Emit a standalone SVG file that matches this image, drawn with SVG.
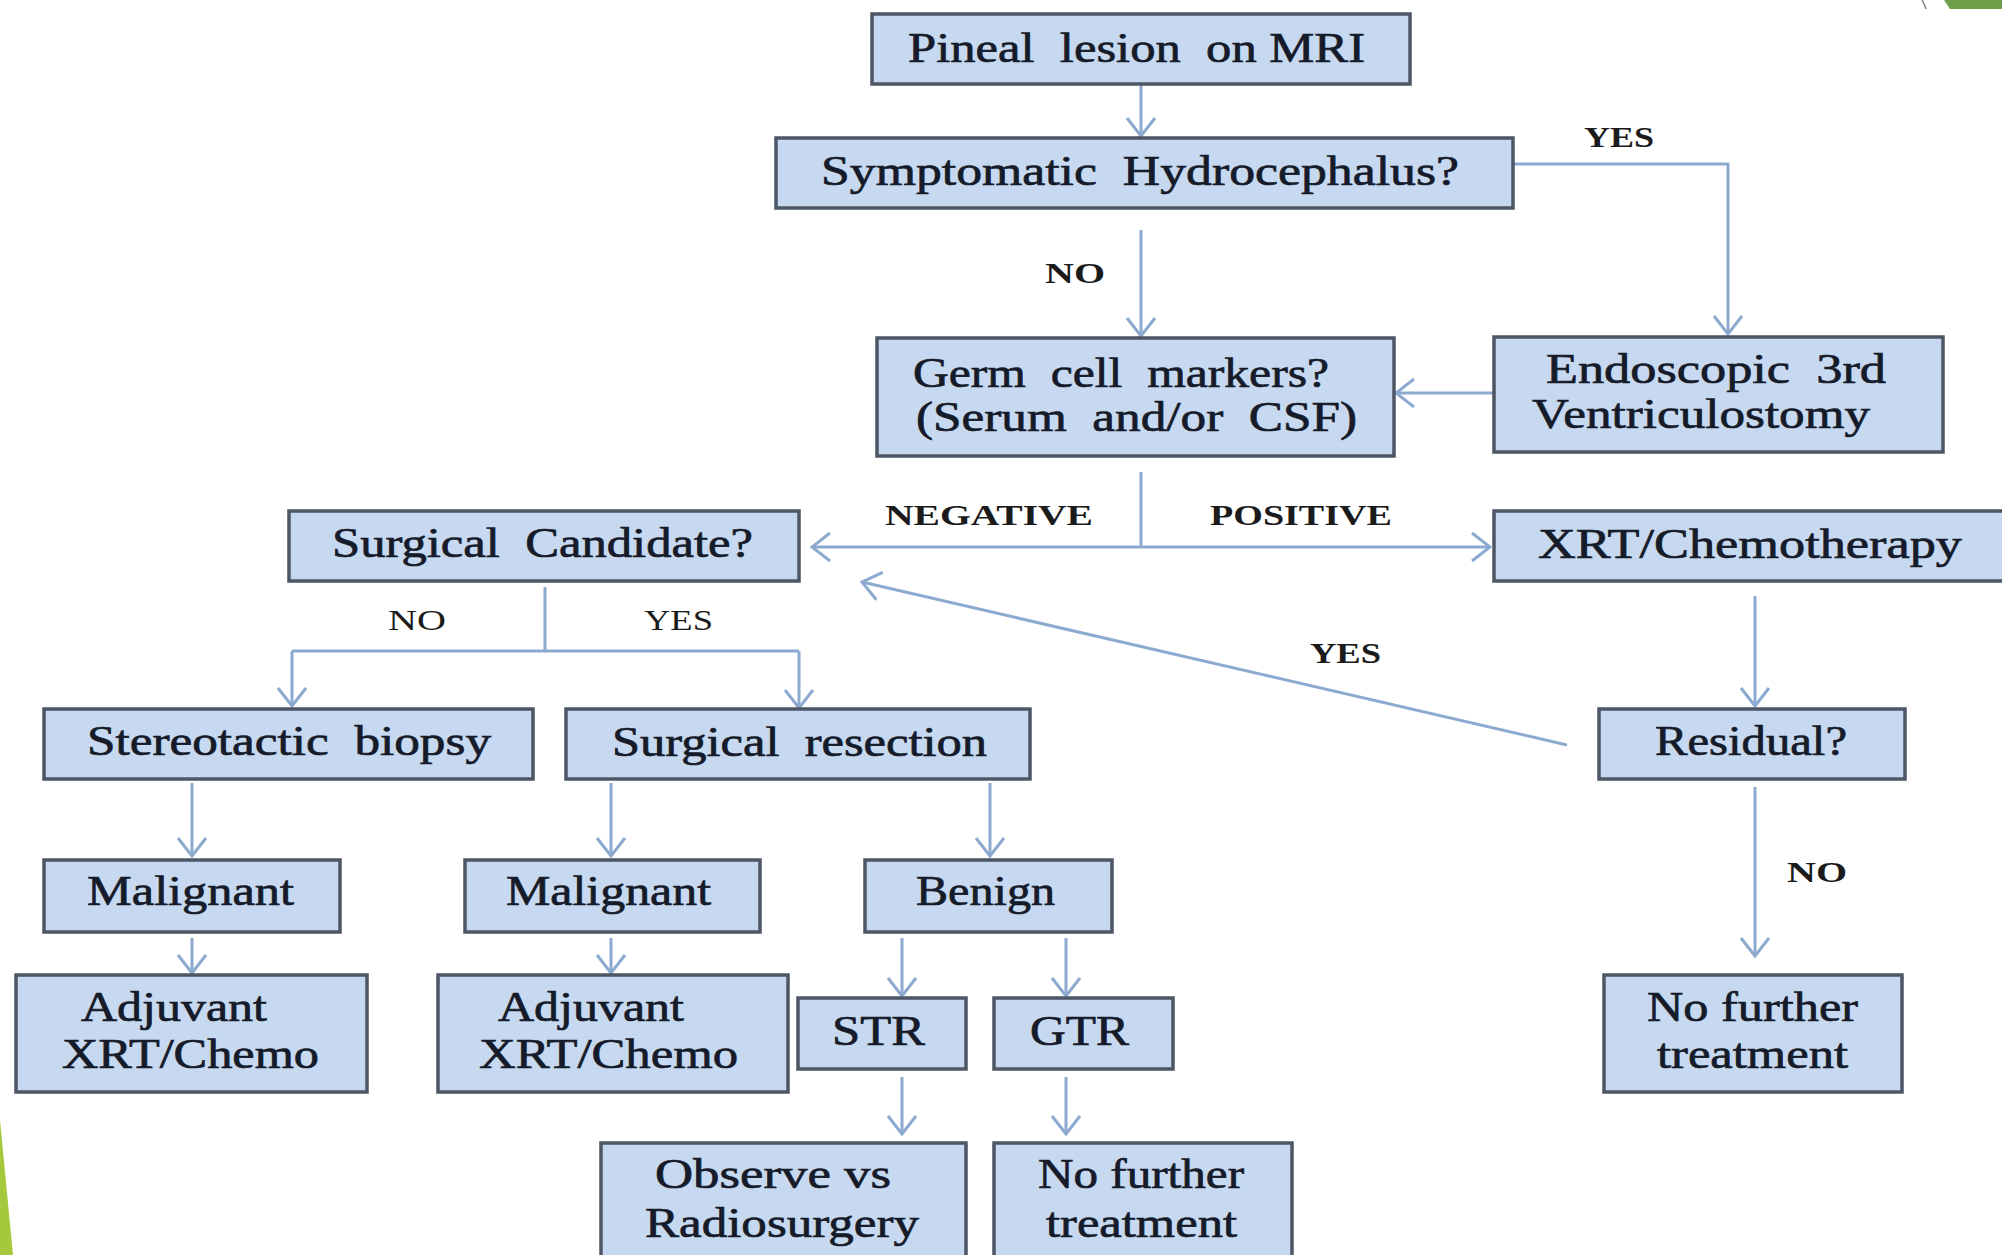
<svg xmlns="http://www.w3.org/2000/svg" width="2002" height="1255" viewBox="0 0 2002 1255">
<style>
.box{fill:#c6d9f0;stroke:#4c5665;stroke-width:3.5}
.t{font-family:"Liberation Serif","Times New Roman",serif;font-size:42px;fill:#161b2a;stroke:#161b2a;stroke-width:0.7;white-space:pre}
.l{font-family:"Liberation Serif","Times New Roman",serif;font-size:30px;fill:#1b1b1b}
.b{font-weight:bold}
.c{fill:none;stroke:#8caad0;stroke-width:3}
</style>
<defs>
<marker id="ah" viewBox="0 0 22 32" refX="20" refY="16" markerWidth="22" markerHeight="32" markerUnits="userSpaceOnUse" orient="auto">
<path d="M2,2 L20,16 L2,30" fill="none" stroke="#8caad0" stroke-width="3"/>
</marker>
</defs>
<rect width="2002" height="1255" fill="#ffffff"/>
<g id="decor">
<path d="M1944,0 L2002,0 L2002,9 L1950,9 Z" fill="#6e9e4a"/>
<path d="M1922,0 Q1925,5 1926,9" fill="none" stroke="#888" stroke-width="1.5"/>
<path d="M0,1120 L13,1255 L0,1255 Z" fill="#a5c93d"/>
</g>
<g id="connectors">
<path class="c" d="M1141,84 L1141,136" marker-end="url(#ah)"/>
<path class="c" d="M1141,230 L1141,336" marker-end="url(#ah)"/>
<path class="c" d="M1513,164 L1728,164 L1728,334" marker-end="url(#ah)"/>
<path class="c" d="M1494,393 L1396,393" marker-end="url(#ah)"/>
<path class="c" d="M1141,472 L1141,547"/>
<path class="c" d="M1141,547 L812,547" marker-end="url(#ah)"/>
<path class="c" d="M1141,547 L1490,547" marker-end="url(#ah)"/>
<path class="c" d="M1755,596 L1755,706" marker-end="url(#ah)"/>
<path class="c" d="M1755,787 L1755,956" marker-end="url(#ah)"/>
<path class="c" d="M1567,745 L862,582" marker-end="url(#ah)"/>
<path class="c" d="M545,587 L545,651"/>
<path class="c" d="M292,651 L799,651"/>
<path class="c" d="M292,651 L292,706" marker-end="url(#ah)"/>
<path class="c" d="M799,651 L799,708" marker-end="url(#ah)"/>
<path class="c" d="M192,783 L192,856" marker-end="url(#ah)"/>
<path class="c" d="M611,783 L611,856" marker-end="url(#ah)"/>
<path class="c" d="M990,783 L990,856" marker-end="url(#ah)"/>
<path class="c" d="M192,938 L192,973" marker-end="url(#ah)"/>
<path class="c" d="M611,938 L611,973" marker-end="url(#ah)"/>
<path class="c" d="M902,938 L902,996" marker-end="url(#ah)"/>
<path class="c" d="M1066,938 L1066,996" marker-end="url(#ah)"/>
<path class="c" d="M902,1077 L902,1134" marker-end="url(#ah)"/>
<path class="c" d="M1066,1077 L1066,1134" marker-end="url(#ah)"/>
</g>
<g id="labels">
<text class="l b" x="1045" y="283" textLength="60" lengthAdjust="spacingAndGlyphs">NO</text>
<text class="l b" x="1584" y="147" textLength="70" lengthAdjust="spacingAndGlyphs">YES</text>
<text class="l b" x="885" y="525" textLength="208" lengthAdjust="spacingAndGlyphs">NEGATIVE</text>
<text class="l b" x="1210" y="525" textLength="182" lengthAdjust="spacingAndGlyphs">POSITIVE</text>
<text class="l" x="388" y="630" textLength="58" lengthAdjust="spacingAndGlyphs">NO</text>
<text class="l" x="644" y="630" textLength="69" lengthAdjust="spacingAndGlyphs">YES</text>
<text class="l b" x="1310" y="663" textLength="71" lengthAdjust="spacingAndGlyphs">YES</text>
<text class="l b" x="1787" y="882" textLength="60" lengthAdjust="spacingAndGlyphs">NO</text>
</g>
<g id="n-pineal">
<rect class="box" x="872" y="14" width="538" height="70"/>
<text class="t" xml:space="preserve" x="908" y="62" textLength="457" lengthAdjust="spacingAndGlyphs">Pineal  lesion  on MRI</text>
</g>
<g id="n-hydro">
<rect class="box" x="776" y="138" width="737" height="70"/>
<text class="t" xml:space="preserve" x="821" y="185" textLength="638" lengthAdjust="spacingAndGlyphs">Symptomatic  Hydrocephalus?</text>
</g>
<g id="n-germ">
<rect class="box" x="877" y="338" width="517" height="118"/>
<text class="t" xml:space="preserve" x="913" y="387" textLength="416" lengthAdjust="spacingAndGlyphs">Germ  cell  markers?</text>
<text class="t" xml:space="preserve" x="916" y="431" textLength="441" lengthAdjust="spacingAndGlyphs">(Serum  and/or  CSF)</text>
</g>
<g id="n-etv">
<rect class="box" x="1494" y="337" width="449" height="115"/>
<text class="t" xml:space="preserve" x="1546" y="383" textLength="340" lengthAdjust="spacingAndGlyphs">Endoscopic  3rd</text>
<text class="t" x="1532" y="428" textLength="338" lengthAdjust="spacingAndGlyphs">Ventriculostomy</text>
</g>
<g id="n-xrt">
<rect class="box" x="1494" y="511" width="530" height="70"/>
<text class="t" x="1538" y="558" textLength="424" lengthAdjust="spacingAndGlyphs">XRT/Chemotherapy</text>
</g>
<g id="n-candidate">
<rect class="box" x="289" y="511" width="510" height="70"/>
<text class="t" xml:space="preserve" x="332" y="557" textLength="421" lengthAdjust="spacingAndGlyphs">Surgical  Candidate?</text>
</g>
<g id="n-biopsy">
<rect class="box" x="44" y="709" width="489" height="70"/>
<text class="t" xml:space="preserve" x="87" y="755" textLength="404" lengthAdjust="spacingAndGlyphs">Stereotactic  biopsy</text>
</g>
<g id="n-resection">
<rect class="box" x="566" y="709" width="464" height="70"/>
<text class="t" xml:space="preserve" x="612" y="756" textLength="375" lengthAdjust="spacingAndGlyphs">Surgical  resection</text>
</g>
<g id="n-residual">
<rect class="box" x="1599" y="709" width="306" height="70"/>
<text class="t" x="1655" y="755" textLength="192" lengthAdjust="spacingAndGlyphs">Residual?</text>
</g>
<g id="n-malig1">
<rect class="box" x="44" y="860" width="296" height="72"/>
<text class="t" x="87" y="905" textLength="207" lengthAdjust="spacingAndGlyphs">Malignant</text>
</g>
<g id="n-malig2">
<rect class="box" x="465" y="860" width="295" height="72"/>
<text class="t" x="506" y="905" textLength="205" lengthAdjust="spacingAndGlyphs">Malignant</text>
</g>
<g id="n-benign">
<rect class="box" x="865" y="860" width="247" height="72"/>
<text class="t" x="916" y="905" textLength="139" lengthAdjust="spacingAndGlyphs">Benign</text>
</g>
<g id="n-adj1">
<rect class="box" x="16" y="975" width="351" height="117"/>
<text class="t" x="81" y="1021" textLength="186" lengthAdjust="spacingAndGlyphs">Adjuvant</text>
<text class="t" x="62" y="1068" textLength="257" lengthAdjust="spacingAndGlyphs">XRT/Chemo</text>
</g>
<g id="n-adj2">
<rect class="box" x="438" y="975" width="350" height="117"/>
<text class="t" x="498" y="1021" textLength="186" lengthAdjust="spacingAndGlyphs">Adjuvant</text>
<text class="t" x="479" y="1068" textLength="259" lengthAdjust="spacingAndGlyphs">XRT/Chemo</text>
</g>
<g id="n-str">
<rect class="box" x="798" y="998" width="168" height="71"/>
<text class="t" x="832" y="1045" textLength="93" lengthAdjust="spacingAndGlyphs">STR</text>
</g>
<g id="n-gtr">
<rect class="box" x="994" y="998" width="179" height="71"/>
<text class="t" x="1030" y="1045" textLength="99" lengthAdjust="spacingAndGlyphs">GTR</text>
</g>
<g id="n-observe">
<rect class="box" x="601" y="1143" width="365" height="130"/>
<text class="t" x="655" y="1188" textLength="236" lengthAdjust="spacingAndGlyphs">Observe vs</text>
<text class="t" x="645" y="1237" textLength="274" lengthAdjust="spacingAndGlyphs">Radiosurgery</text>
</g>
<g id="n-nofurther1">
<rect class="box" x="994" y="1143" width="298" height="130"/>
<text class="t" x="1038" y="1188" textLength="206" lengthAdjust="spacingAndGlyphs">No further</text>
<text class="t" x="1046" y="1237" textLength="191" lengthAdjust="spacingAndGlyphs">treatment</text>
</g>
<g id="n-nofurther2">
<rect class="box" x="1604" y="975" width="298" height="117"/>
<text class="t" x="1647" y="1021" textLength="211" lengthAdjust="spacingAndGlyphs">No further</text>
<text class="t" x="1657" y="1068" textLength="191" lengthAdjust="spacingAndGlyphs">treatment</text>
</g>
</svg>
